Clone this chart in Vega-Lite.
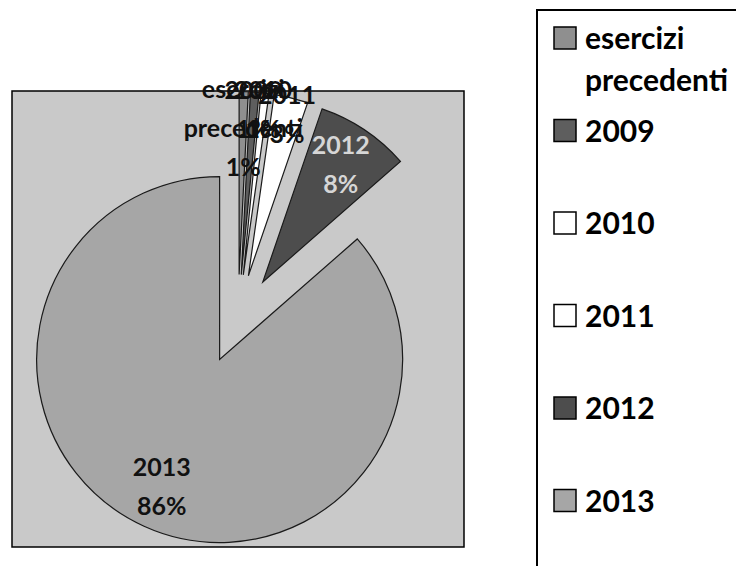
{
  "$schema": "https://vega.github.io/schema/vega-lite/v6.json",
  "width": 452,
  "height": 456,
  "autosize": {"type": "none"},
  "padding": {"left": 12, "top": 91, "right": 272, "bottom": 19},
  "background": "#ffffff",
  "params": [
    {"name": "explode", "value": 44.5},
    {"name": "labelInner", "value": 140},
    {"name": "labelOuter", "value": 165}
  ],
  "data": {
    "values": [
      {"categoria": "esercizi precedenti", "quota": 0.008, "ordine": 1},
      {"categoria": "2009", "quota": 0.0075, "ordine": 2},
      {"categoria": "2010", "quota": 0.007, "ordine": 3},
      {"categoria": "2011", "quota": 0.03, "ordine": 4},
      {"categoria": "2012", "quota": 0.083, "ordine": 5},
      {"categoria": "2013", "quota": 0.8645, "ordine": 6}
    ]
  },
  "transform": [
    {"window": [{"op": "sum", "field": "quota", "as": "cumulata"}], "sort": [{"field": "ordine", "order": "ascending"}]},
    {"calculate": "2 * PI * (datum.cumulata - datum.quota / 2)", "as": "angoloMedio"},
    {"calculate": "width / 2 + explode * sin(datum.angoloMedio)", "as": "cx"},
    {"calculate": "height / 2 - explode * cos(datum.angoloMedio)", "as": "cy"},
    {"calculate": "datum.quota < 0.05 ? labelOuter : labelInner", "as": "raggioEtichetta"},
    {"calculate": "datum.cx + datum.raggioEtichetta * sin(datum.angoloMedio)", "as": "lx"},
    {"calculate": "datum.cy - datum.raggioEtichetta * cos(datum.angoloMedio)", "as": "ly"},
    {"calculate": "datum.categoria === 'esercizi precedenti' ? ['esercizi', 'precedenti', format(datum.quota, '.0%')] : [datum.categoria, format(datum.quota, '.0%')]", "as": "etichetta"}
  ],
  "layer": [
    {
      "mark": {"type": "arc", "radius": 183, "stroke": "#1a1a1a", "strokeWidth": 1.2},
      "encoding": {
        "theta": {"field": "quota", "type": "quantitative", "stack": true},
        "order": {"field": "ordine", "type": "quantitative"},
        "x": {"field": "cx", "type": "quantitative", "scale": null},
        "y": {"field": "cy", "type": "quantitative", "scale": null},
        "fill": {
          "field": "categoria",
          "type": "nominal",
          "scale": {
            "domain": ["esercizi precedenti", "2009", "2010", "2011", "2012", "2013"],
            "range": ["#8f8f8f", "#5e5e5e", "#ffffff", "#ffffff", "#4d4d4d", "#a6a6a6"]
          },
          "legend": {
            "orient": "none",
            "legendX": 525,
            "legendY": -81,
            "title": " ",
            "titleOrient": "bottom",
            "titleFontSize": 20,
            "titlePadding": 24,
            "padding": 13,
            "strokeColor": "#000000",
            "symbolType": "square",
            "symbolSize": 484,
            "symbolStrokeColor": "#000000",
            "symbolStrokeWidth": 1.5,
            "symbolOpacity": 1,
            "labelFont": "Lato",
            "labelFontWeight": "bold",
            "labelFontSize": 30,
            "labelColor": "#000000",
            "labelLimit": 400,
            "labelOffset": 5,
            "labelBaseline": "top",
            "labelExpr": "datum.label === 'esercizi precedenti' ? ['esercizi', 'precedenti'] : datum.label",
            "gridAlign": "all",
            "rowPadding": 18.5,
            "encode": {
              "labels": {"update": {"dy": {"value": -13}, "lineHeight": {"value": 42}}}
            }
          }
        }
      }
    },
    {
      "mark": {"type": "text", "font": "Lato", "fontWeight": "bold", "fontSize": 25, "lineHeight": 39, "align": "center", "baseline": "middle", "dy": -19.5},
      "encoding": {
        "x": {"field": "lx", "type": "quantitative", "scale": null},
        "y": {"field": "ly", "type": "quantitative", "scale": null},
        "text": {"field": "etichetta", "type": "nominal"},
        "color": {
          "condition": {"test": "datum.categoria === '2012'", "value": "#d6d6d6"},
          "value": "#111111"
        }
      }
    }
  ],
  "config": {
    "view": {"fill": "#c9c9c9", "stroke": "#000000", "strokeWidth": 1.5},
    "legend": {"strokeWidth": 2}
  }
}
